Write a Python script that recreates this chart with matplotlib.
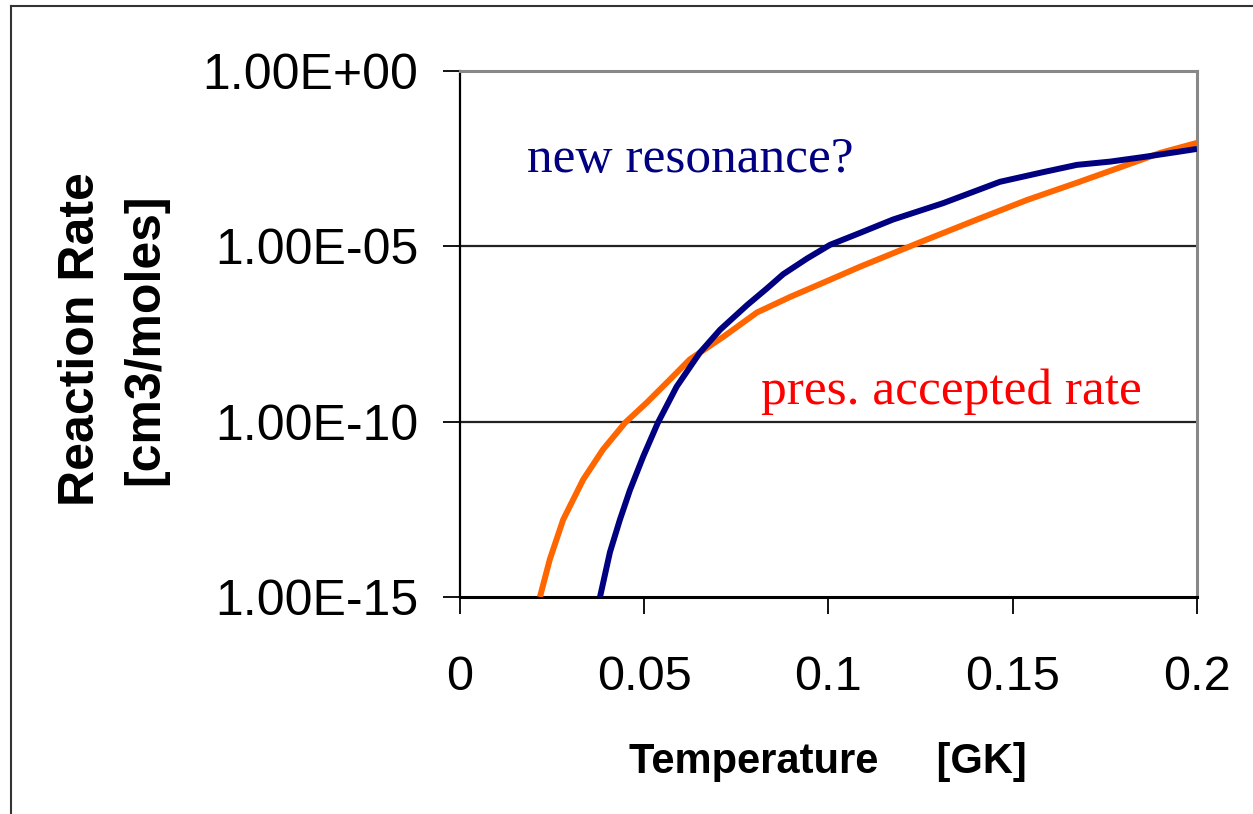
import numpy as np
import matplotlib.pyplot as plt
from matplotlib.lines import Line2D

# valores
temp_aceita = [0.0217, 0.0244, 0.0280, 0.0334, 0.0388, 0.0448, 0.0507, 0.0570, 0.0624,
               0.0714, 0.0806, 0.0896, 0.0985, 0.1085, 0.1248, 0.1403, 0.1539, 0.1674,
               0.1810, 0.1900, 0.2000]
taxa_aceita = [1.0e-15, 1.2e-14, 1.6e-13, 2.2e-12, 1.6e-11, 9.3e-11, 3.5e-10, 1.6e-09, 6.0e-09,
               2.6e-08, 1.3e-07, 3.6e-07, 9.1e-07, 2.6e-06, 1.3e-05, 5.8e-05, 2.1e-04, 6.5e-04,
               2.1e-03, 4.6e-03, 8.9e-03]

temp_nova = [0.0380, 0.0407, 0.0434, 0.0461, 0.0497, 0.0537, 0.0588, 0.0651, 0.0706,
             0.0779, 0.0833, 0.0877, 0.0942, 0.1004, 0.1085, 0.1175, 0.1311, 0.1465,
             0.1582, 0.1674, 0.1764, 0.1853, 0.1946, 0.2000]
taxa_nova = [1.0e-15, 1.9e-14, 1.6e-13, 1.1e-12, 1.0e-11, 9.3e-11, 1.0e-09, 9.3e-09, 4.2e-08,
             2.1e-07, 6.3e-07, 1.6e-06, 4.5e-06, 1.1e-05, 2.4e-05, 5.8e-05, 1.7e-04, 6.9e-04,
             1.3e-03, 2.1e-03, 2.6e-03, 3.5e-03, 4.9e-03, 6.0e-03]

yticks = [1e0, 1e-5, 1e-10, 1e-15]
ytick_labels = ['1.00E+00', '1.00E-05', '1.00E-10', '1.00E-15']
xticks = [0, 0.05, 0.1, 0.15, 0.2]
xtick_labels = ['0', '0.05', '0.1', '0.15', '0.2']

plt.rcParams['font.family'] = ['Liberation Sans', 'DejaVu Sans']

fig = plt.figure(figsize=(12.53, 8.14), dpi=100)
ax = fig.add_axes([0.3671, 0.2666, 0.5882, 0.6462])

ax.plot(temp_aceita, taxa_aceita, color='#FF6600', lw=4.3, solid_capstyle='butt',
        solid_joinstyle='round', zorder=3)
ax.plot(temp_nova, taxa_nova, color='#000080', lw=4.3, solid_capstyle='butt',
        solid_joinstyle='round', zorder=4)

ax.set_yscale('log')
ax.set_xlim(0, 0.2)
ax.set_ylim(1e-15, 1e0)
ax.set_yticks(yticks)
ax.set_yticklabels(ytick_labels)
ax.yaxis.set_minor_locator(plt.NullLocator())
ax.set_xticks(xticks)
ax.set_xticklabels(xtick_labels)

for y in [1e-5, 1e-10]:
    ax.axhline(y, color='#222222', lw=1.6, zorder=1)

ax.tick_params(axis='y', direction='out', length=12, width=1.3, pad=18, labelsize=36)
ax.tick_params(axis='x', direction='out', length=12, width=1.3, pad=30, labelsize=35)

ax.spines['left'].set_color('black')
ax.spines['left'].set_linewidth(1.6)
ax.spines['bottom'].set_color('black')
ax.spines['bottom'].set_linewidth(2.2)
ax.spines['top'].set_color('#888888')
ax.spines['top'].set_linewidth(2.2)
ax.spines['right'].set_color('#888888')
ax.spines['right'].set_linewidth(2.2)

ax.text(0.0183, 10**-2.88, 'new resonance?', family='Liberation Serif', fontsize=37,
        color='#000080', ha='left', va='baseline')
ax.text(0.0818, 10**-9.5, 'pres. accepted rate', family='Liberation Serif', fontsize=37,
        color='#FF0000', ha='left', va='baseline')

fig.text(0.0905, 0.5835, 'Reaction Rate\n[cm3/moles]', rotation=90, fontsize=36,
         fontweight='bold', ha='center', va='center', multialignment='center',
         linespacing=1.5)
fig.text(0.6604, 0.064, 'Temperature     [GK]', fontsize=30, fontweight='bold',
         ha='center', va='center')

# moldura do grafico (so esquerda e topo aparecem)
fig.add_artist(Line2D([11 / 1253, 11 / 1253], [0, 1 - 6 / 814], transform=fig.transFigure,
                      color='#333333', lw=1.5))
fig.add_artist(Line2D([11 / 1253, 1], [1 - 6 / 814, 1 - 6 / 814], transform=fig.transFigure,
                      color='#333333', lw=1.5))

fig.savefig('out.png', dpi=100)
